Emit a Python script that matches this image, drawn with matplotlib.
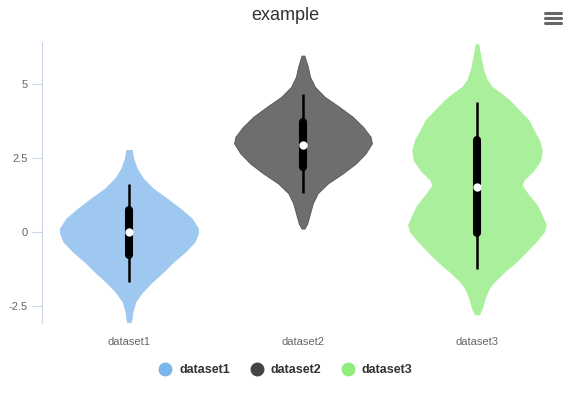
import matplotlib.pyplot as plt
from matplotlib.lines import Line2D

plt.rcParams["font.family"] = ["Liberation Sans", "DejaVu Sans"]

categories = ["dataset1", "dataset2", "dataset3"]
colors = ["#7cb5ec", "#434348", "#90ed7d"]
fill_colors = ["#9ec8f0", "#6e6e71", "#aaf09c"]
edge_colors = ["#9ec8f0", "#5a5a5e", "#aaf09c"]

# violin outlines: value levels and density (relative half-width)
d1_levels = [2.77, 2.49, 2.15, 1.81, 1.48, 1.14, 0.80, 0.46, 0.13, -0.04, -0.33, -0.67, -1.01,
             -1.34, -1.68, -2.02, -2.35, -2.69, -3.03]
d1_density = [0.04, 0.06, 0.11, 0.2, 0.34, 0.54, 0.73, 0.9, 0.99, 0.99, 0.94, 0.8, 0.63,
              0.49, 0.33, 0.19, 0.09, 0.05, 0.03]
d2_levels = [5.96, 5.58, 5.25, 4.91, 4.57, 4.23, 3.90, 3.56, 3.22, 3.0, 2.66, 2.32, 1.98,
             1.65, 1.31, 0.97, 0.63, 0.29, 0.12]
d2_density = [0.02, 0.07, 0.1, 0.17, 0.31, 0.52, 0.71, 0.86, 0.97, 0.99, 0.9, 0.76, 0.57,
              0.36, 0.21, 0.14, 0.1, 0.06, 0.02]
d3_levels = [6.34, 5.92, 5.47, 5.14, 4.91, 4.69, 4.46, 4.12, 3.78, 3.45, 3.11, 2.77, 2.43,
             2.09, 1.76, 1.59, 1.25, 0.91, 0.57, 0.24, 0.01, -0.33, -0.67, -1.0, -1.34,
             -1.68, -1.9, -2.24, -2.58, -2.78]
d3_density = [0.02, 0.05, 0.09, 0.14, 0.21, 0.34, 0.46, 0.6, 0.74, 0.81, 0.89, 0.93, 0.91,
              0.81, 0.67, 0.64, 0.74, 0.86, 0.93, 0.99, 0.96, 0.84, 0.7, 0.56, 0.39,
              0.24, 0.17, 0.11, 0.07, 0.03]
levels = [d1_levels, d2_levels, d3_levels]
densities = [d1_density, d2_density, d3_density]

whisker_low = [-1.69, 1.32, -1.25]
q1 = [-0.78, 2.2, -0.03]
median = [0.0, 2.94, 1.52]
q3 = [0.74, 3.72, 3.11]
whisker_high = [1.62, 4.66, 4.39]

yticks = [-2.5, 0, 2.5, 5]
ytick_labels = ["-2.5", "0", "2.5", "5"]

W, H = 571, 404
fig = plt.figure(figsize=(W / 100, H / 100), dpi=100)
ax = fig.add_axes([42 / W, (H - 323) / H, (564 - 42) / W, (323 - 42) / H])

half_width = 0.4
for i in range(len(categories)):
    w = [d * half_width for d in densities[i]]
    ax.fill_betweenx(levels[i], [i - v for v in w], [i + v for v in w],
                     facecolor=fill_colors[i], edgecolor=edge_colors[i], lw=0.7, zorder=2)
    ax.plot([i, i], [whisker_low[i], whisker_high[i]], color="black", lw=1.8,
            solid_capstyle="butt", zorder=3)
    ax.plot([i, i], [q1[i], q3[i]], color="black", lw=5.8,
            solid_capstyle="round", zorder=4)
    ax.plot(i, median[i], "o", color="white", markersize=6, markeredgewidth=0, zorder=5)

ax.set_xlim(-0.5, 2.5)
ax.set_ylim(-3.07, 6.42)
ax.set_yticks(yticks)
ax.set_yticklabels(ytick_labels)
ax.set_xticks(range(len(categories)))
ax.set_xticklabels(categories)

for s in ["top", "right", "bottom"]:
    ax.spines[s].set_visible(False)
ax.spines["left"].set_color("#ccd6eb")
ax.spines["left"].set_linewidth(0.8)
ax.tick_params(axis="y", colors="#ccd6eb", labelcolor="#666666", labelsize=8,
               length=7, width=0.8, pad=3)
ax.tick_params(axis="x", length=0, labelcolor="#666666", labelsize=8, pad=10)

fig.text(285 / W, 1 - 15 / H, "example", ha="center", va="center",
         fontsize=13, color="#333333")

# menu icon
for yy in [13, 18, 23]:
    fig.add_artist(Line2D([545 / W, 561 / W], [1 - yy / H, 1 - yy / H],
                          color="#666666", lw=2.2, solid_capstyle="round"))

handles = [Line2D([], [], marker="o", ls="", color=c, markersize=9) for c in colors]
leg = fig.legend(handles, categories, loc="center", bbox_to_anchor=(0.495, 1 - 370 / H),
                 ncol=3, frameon=False, handletextpad=0.1, columnspacing=1.15,
                 prop={"weight": "bold", "size": 9})
for t in leg.get_texts():
    t.set_color("#333333")

fig.savefig("out.png", dpi=100)
